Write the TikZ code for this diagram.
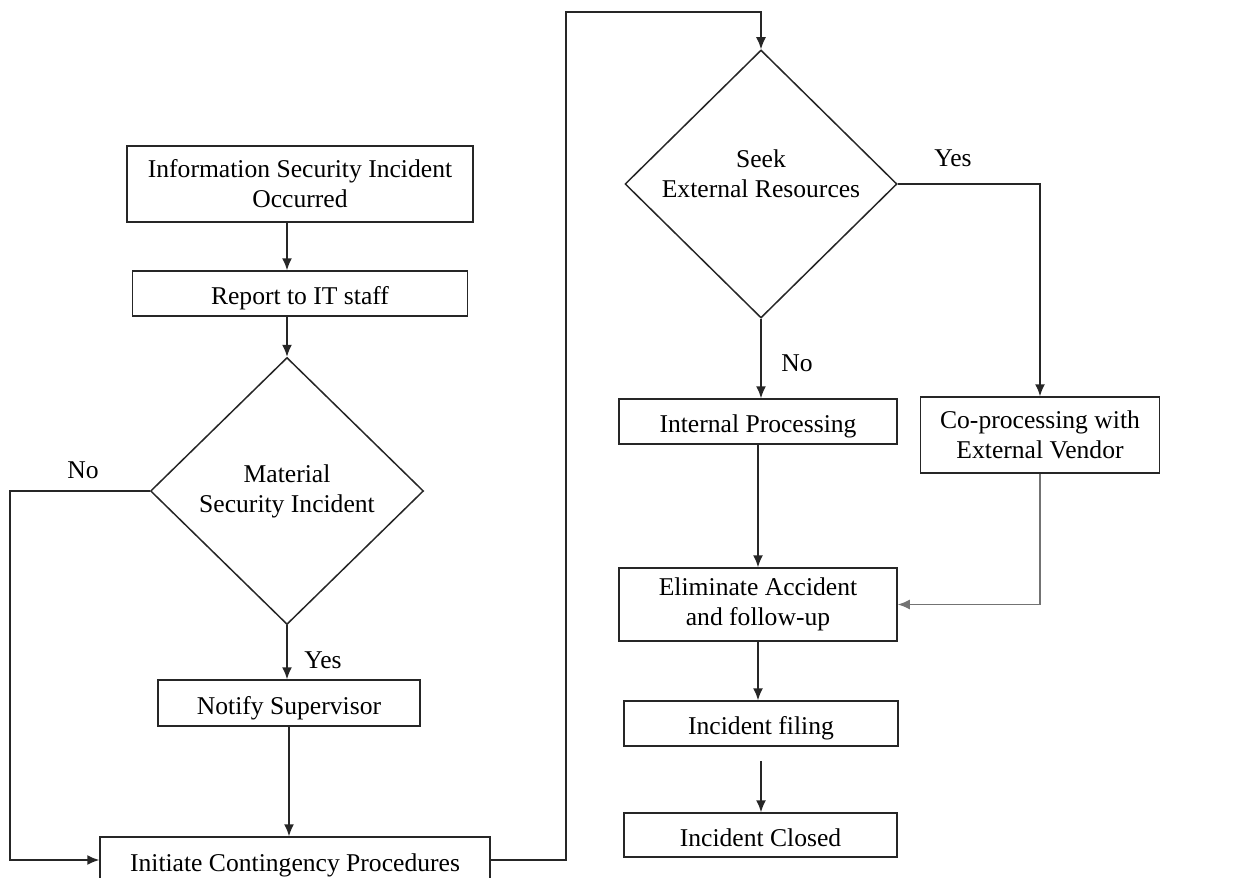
\documentclass[tikz,border=0pt]{standalone}
\usepackage{fontspec}
\setmainfont{Liberation Serif}
\usepackage{tikz}
\usetikzlibrary{arrows.meta,shapes.geometric}

\tikzset{
  box/.style={draw=black!85, line width=0.75pt, rectangle, align=center, inner sep=0pt},
  oneline/.style={box, text height=11pt, text depth=0pt},
  decision/.style={draw=black!85, line width=0.75pt, diamond, align=center, inner sep=0pt},
  arr/.style={-{Latex[length=6pt,width=5pt]}, line width=0.75pt, draw=black!85},
  lbl/.style={inner sep=0pt}
}

\begin{document}
\begin{tikzpicture}[x=0.5pt, y=-0.5pt, font=\fontsize{12.8}{15}\selectfont]

\useasboundingbox (0,0) rectangle (1235,877);

\node[box, minimum width=173pt, minimum height=38pt] (info) at (300,184) {Information Security Incident\\Occurred};
\node[oneline, minimum width=167.5pt, minimum height=22.5pt] (report) at (300,293.5) {Report to IT staff};
\node[decision, minimum width=136.5pt, minimum height=133.5pt] (material) at (287,491) {Material\\Security Incident};
\node[oneline, minimum width=131pt, minimum height=23pt] (notify) at (289,703) {Notify Supervisor};
\node[oneline, minimum width=195pt, minimum height=23pt] (initiate) at (295,860) {Initiate Contingency Procedures};

\node[decision, minimum width=136pt, minimum height=134pt, text depth=10pt] (seek) at (761,184) {Seek\\External Resources};
\node[oneline, minimum width=139pt, minimum height=22.5pt] (internal) at (758,421.5) {Internal Processing};
\node[box, minimum width=119.5pt, minimum height=38pt] (coproc) at (1040,435) {Co-processing with\\External Vendor};
\node[box, minimum width=139pt, minimum height=36.5pt] (elim) at (758,604.5) {Eliminate Accident\\and follow-up};
\node[oneline, minimum width=137pt, minimum height=22.5pt] (filing) at (761,723.5) {Incident filing};
\node[oneline, minimum width=136.5pt, minimum height=22pt] (closed) at (760.5,835) {Incident Closed};

\node[lbl] (no1) at (83,470) {No};
\node[lbl] (yes1) at (323,660) {Yes};
\node[lbl] (yes2) at (953,158) {Yes};
\node[lbl] (no2) at (797,363) {No};

\coordinate (leftrail) at (10,0);
\coordinate (toprail) at (566,12);

\foreach \a/\b in {info/report, report/material, material/notify}
    \draw[arr] (\a.south -| material.north) -- (\b.north -| material.north);
\draw[arr] (notify.south) -- (initiate.north -| notify.south);
\draw[arr] (material.west) -- (material.west -| leftrail) |- (initiate.west);
\draw[arr] (initiate.east) -| (toprail) -| (seek.north);

\draw[arr] (seek.east) -| (coproc.north);
\foreach \a/\b in {seek/internal, internal/elim, elim/filing}
    \draw[arr] (\a.south) -- (\b.north -| \a.south);
\draw[arr, shorten <=7pt] (filing.south) -- (closed.north -| filing.south);
\draw[arr, draw=black!55] (coproc.south) |- (elim.east);

\end{tikzpicture}
\end{document}
